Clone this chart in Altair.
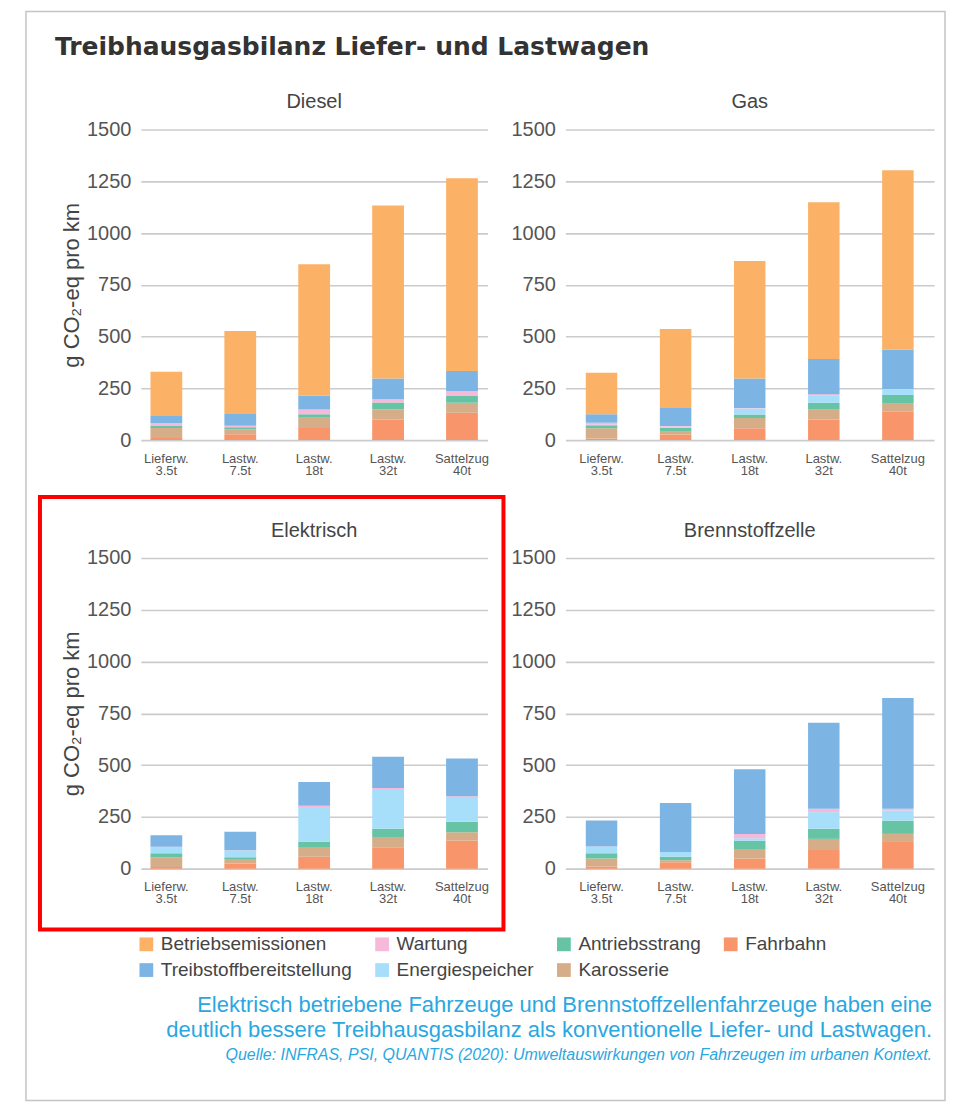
import altair as alt
import pandas as pd

# ---------------- data ----------------
fahrzeuge = ["Lieferw. 3.5t", "Lastw. 7.5t", "Lastw. 18t", "Lastw. 32t", "Sattelzug 40t"]
antriebe = ["Diesel", "Gas", "Elektrisch", "Brennstoffzelle"]

# legend entries (filled column by column, two rows)
legend_order = ["Betriebsemissionen", "Treibstoffbereitstellung", "Wartung", "Energiespeicher",
                "Antriebsstrang", "Karosserie", "Fahrbahn"]
farben = ["#FCB266", "#7CB5E3", "#F6B9DA", "#A7DEFA", "#66C4A4", "#D5AE89", "#F8956A"]
stack_order = ["Fahrbahn", "Karosserie", "Antriebsstrang", "Energiespeicher",
               "Wartung", "Treibstoffbereitstellung", "Betriebsemissionen"]

diesel_fahrbahn = [10, 28, 58, 100, 132]
diesel_karosserie = [48, 25, 50, 48, 48]
diesel_antrieb = [12, 9, 17, 34, 35]
diesel_energie = [0, 0, 0, 0, 0]
diesel_wartung = [13, 7, 23, 15, 22]
diesel_treibstoff = [33, 57, 67, 100, 97]
diesel_betrieb = [214, 401, 634, 836, 930]

gas_fahrbahn = [8, 27, 57, 99, 139]
gas_karosserie = [49, 13, 50, 48, 40]
gas_antrieb = [15, 20, 17, 33, 39]
gas_energie = [2, 5, 29, 34, 27]
gas_wartung = [10, 3, 2, 8, 2]
gas_treibstoff = [41, 87, 142, 170, 189]
gas_betrieb = [200, 381, 568, 756, 867]

elektro_fahrbahn = [8, 25, 57, 103, 136]
elektro_karosserie = [47, 22, 48, 50, 40]
elektro_antrieb = [20, 8, 25, 40, 50]
elektro_energie = [30, 33, 168, 192, 120]
elektro_wartung = [1, 1, 6, 4, 4]
elektro_treibstoff = [55, 89, 115, 151, 182]
elektro_betrieb = [0, 0, 0, 0, 0]

bz_fahrbahn = [11, 31, 49, 90, 129]
bz_karosserie = [38, 10, 46, 54, 39]
bz_antrieb = [26, 16, 40, 49, 64]
bz_energie = [31, 23, 12, 80, 49]
bz_wartung = [1, 1, 20, 16, 8]
bz_treibstoff = [125, 236, 313, 415, 535]
bz_betrieb = [0, 0, 0, 0, 0]

series = {
    "Diesel": {"Fahrbahn": diesel_fahrbahn, "Karosserie": diesel_karosserie,
               "Antriebsstrang": diesel_antrieb, "Energiespeicher": diesel_energie,
               "Wartung": diesel_wartung, "Treibstoffbereitstellung": diesel_treibstoff,
               "Betriebsemissionen": diesel_betrieb},
    "Gas": {"Fahrbahn": gas_fahrbahn, "Karosserie": gas_karosserie,
            "Antriebsstrang": gas_antrieb, "Energiespeicher": gas_energie,
            "Wartung": gas_wartung, "Treibstoffbereitstellung": gas_treibstoff,
            "Betriebsemissionen": gas_betrieb},
    "Elektrisch": {"Fahrbahn": elektro_fahrbahn, "Karosserie": elektro_karosserie,
                   "Antriebsstrang": elektro_antrieb, "Energiespeicher": elektro_energie,
                   "Wartung": elektro_wartung, "Treibstoffbereitstellung": elektro_treibstoff,
                   "Betriebsemissionen": elektro_betrieb},
    "Brennstoffzelle": {"Fahrbahn": bz_fahrbahn, "Karosserie": bz_karosserie,
                        "Antriebsstrang": bz_antrieb, "Energiespeicher": bz_energie,
                        "Wartung": bz_wartung, "Treibstoffbereitstellung": bz_treibstoff,
                        "Betriebsemissionen": bz_betrieb},
}

y_ticks = [0, 250, 500, 750, 1000, 1250, 1500]

titel = "Treibhausgasbilanz Liefer- und Lastwagen"
y_titel = "g CO₂-eq pro km"
fazit_1 = "Elektrisch betriebene Fahrzeuge und Brennstoffzellenfahrzeuge haben eine"
fazit_2 = "deutlich bessere Treibhausgasbilanz als konventionelle Liefer- und Lastwagen."
quelle = "Quelle: INFRAS, PSI, QUANTIS (2020): Umweltauswirkungen von Fahrzeugen im urbanen Kontext."

rows = []
for a in antriebe:
    for k, vals in series[a].items():
        for f, v in zip(fahrzeuge, vals):
            rows.append({"antrieb": a, "fahrzeug": f, "komponente": k,
                         "wert": v, "stapel": stack_order.index(k)})
df = pd.DataFrame(rows)

FONT = "Liberation Sans"
GREY = "#555555"

legend = alt.Legend(title=None, orient="none", legendX=-4, legendY=806, columns=4,
                    symbolType="square", symbolSize=190, symbolStrokeWidth=0,
                    labelFontSize=19, labelFont=FONT, labelColor="#444444",
                    labelLimit=400, labelOffset=5, columnPadding=20, rowPadding=6)


def panel(name, width, p_inner, p_outer, with_title):
    yaxis = alt.Axis(values=y_ticks, format="d", grid=True, gridColor="#cbcbcb",
                     gridWidth=1.6, domain=False, ticks=False, labelPadding=10,
                     labelFontSize=20, labelFont=FONT, labelColor=GREY,
                     title=y_titel if with_title else "",
                     titleFont=FONT, titleFontSize=22, titleFontWeight="normal",
                     titleColor="#444444", titlePadding=3)
    xaxis = alt.Axis(title=None, labelAngle=0, labelExpr="split(datum.label, ' ')",
                     ticks=False, domain=False, grid=False, labelPadding=12,
                     labelFontSize=13, labelLineHeight=12, labelFont=FONT,
                     labelColor=GREY)
    return (
        alt.Chart(df)
        .transform_filter(alt.datum.antrieb == name)
        .mark_bar()
        .encode(
            x=alt.X("fahrzeug:N", sort=fahrzeuge, axis=xaxis,
                    scale=alt.Scale(paddingInner=p_inner, paddingOuter=p_outer)),
            y=alt.Y("wert:Q", stack="zero", axis=yaxis,
                    scale=alt.Scale(domain=[0, 1500], nice=False)),
            color=alt.Color("komponente:N",
                            scale=alt.Scale(domain=legend_order, range=farben),
                            legend=legend),
            order=alt.Order("stapel:Q", sort="ascending"),
        )
        .properties(width=width, height=311,
                    title=alt.TitleParams(name, font=FONT, fontSize=20,
                                          fontWeight="normal", color="#444444",
                                          offset=7, anchor="middle", frame="group"))
    )


diesel = panel("Diesel", 347, 0.57, 0.13, True)
gas = panel("Gas", 369, 0.575, 0.275, False)
elektro = panel("Elektrisch", 347, 0.57, 0.13, True)
bz = panel("Brennstoffzelle", 369, 0.575, 0.275, False)

# ------------- annotations (title, footer, highlight box, frame) -------------
one = pd.DataFrame({"n": [0]})
ann_title = alt.Chart(one).mark_text(
    text=titel, align="left", baseline="alphabetic", font="DejaVu Sans",
    fontSize=25, fontWeight="bold", color="#333333"
).encode(x=alt.value(-86), y=alt.value(-933))
ann_f1 = alt.Chart(one).mark_text(
    text=fazit_1, align="right", baseline="alphabetic", font=FONT,
    fontSize=22, color="#2AA7E1"
).encode(x=alt.value(792), y=alt.value(25))
ann_f2 = alt.Chart(one).mark_text(
    text=fazit_2, align="right", baseline="alphabetic", font=FONT,
    fontSize=22, color="#2AA7E1"
).encode(x=alt.value(792), y=alt.value(51))
ann_q = alt.Chart(one).mark_text(
    text=quelle, align="right", baseline="alphabetic", font=FONT,
    fontSize=16, fontStyle="italic", color="#2AA7E1"
).encode(x=alt.value(792), y=alt.value(74))
ann_box = alt.Chart(one).mark_rect(
    fillOpacity=0, stroke="#FF0000", strokeWidth=4
).encode(x=alt.value(-101), x2=alt.value(363), y=alt.value(-490), y2=alt.value(-57))
ann_frame = alt.Chart(one).mark_rect(
    fillOpacity=0, stroke="#c4c4c4", strokeWidth=1.5
).encode(x=alt.value(-115), x2=alt.value(805), y=alt.value(-976), y2=alt.value(114))

annot = alt.layer(ann_frame, ann_box, ann_title, ann_f1, ann_f2, ann_q).properties(
    width=1, height=1)

chart = (
    alt.concat(diesel, gas, elektro, bz, annot, columns=2,
               spacing=alt.RowColnumber(row=118, column=78),
               align="each", bounds="flush")
    .properties(padding={"left": 16, "top": 1, "right": 0, "bottom": 0})
    .configure_view(stroke="transparent")
)

chart.save("out.html", embed_options={"renderer": "svg", "actions": False})
